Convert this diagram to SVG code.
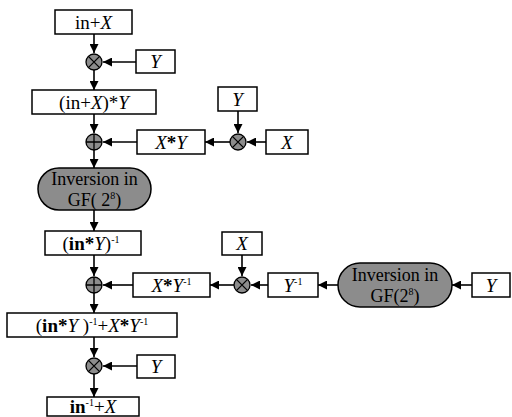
<svg xmlns="http://www.w3.org/2000/svg" width="512" height="417" viewBox="0 0 512 417">
<style>
.box{fill:#fff;stroke:#000;stroke-width:1.5}
.pill{fill:#8c8c8c;stroke:#000;stroke-width:1.5}
.op{fill:#8c8c8c;stroke:#000;stroke-width:1.3}
.opl{stroke:#000;stroke-width:1.3;fill:none}
.t{font-family:"Liberation Serif","Times New Roman",serif;font-size:19px;fill:#000;text-anchor:middle}
.p{font-size:18px}
.i{font-style:italic}
.b{font-weight:bold}
.s{font-size:10px}
.c{stroke:#000;stroke-width:1.6;fill:none;marker-end:url(#ah)}
</style>
<defs>
<marker id="ah" viewBox="0 0 10 10" refX="10" refY="5" markerWidth="9" markerHeight="9" markerUnits="userSpaceOnUse" orient="auto">
<path d="M0,0 L10,5 L0,10 z" fill="#000"/>
</marker>
<g id="mul"><circle class="op" r="8"/><path class="opl" d="M-5.6,-5.6 L5.6,5.6 M-5.6,5.6 L5.6,-5.6"/></g>
<g id="add"><circle class="op" r="8"/><path class="opl" d="M-8,0 L8,0 M0,-8 L0,8"/></g>
</defs>

<g id="connectors">
<path class="c" d="M94,34 L94,53"/>
<path class="c" d="M136,62 L103,62"/>
<path class="c" d="M94,70 L94,90"/>
<path class="c" d="M94,114 L94,133"/>
<path class="c" d="M137,142 L103,142"/>
<path class="c" d="M238,111 L238,133"/>
<path class="c" d="M266,142 L247,142"/>
<path class="c" d="M230,142 L205,142"/>
<path class="c" d="M94,150 L94,168"/>
<path class="c" d="M94,210 L94,231"/>
<path class="c" d="M94,255 L94,276"/>
<path class="c" d="M133,285 L103,285"/>
<path class="c" d="M242,255 L242,276"/>
<path class="c" d="M268,285 L251,285"/>
<path class="c" d="M234,285 L210,285"/>
<path class="c" d="M338,285 L318,285"/>
<path class="c" d="M472,285 L452,285"/>
<path class="c" d="M94,293 L94,313"/>
<path class="c" d="M94,337 L94,357"/>
<path class="c" d="M137,366 L103,366"/>
<path class="c" d="M94,374 L94,397"/>
</g>

<g id="n_inX"><rect class="box" x="55" y="10" width="77" height="24"/><text class="t" x="93.5" y="28.5">in+<tspan class="i">X</tspan></text></g>
<g id="op1"><use href="#mul" x="94" y="62"/></g>
<g id="n_Y1"><rect class="box" x="136" y="50" width="39" height="23"/><text class="t i" x="155.5" y="67.5">Y</text></g>
<g id="n_inXY"><rect class="box" x="32" y="90" width="124" height="24"/><text class="t" x="94" y="108.5">(in+<tspan class="i">X</tspan>)*<tspan class="i">Y</tspan></text></g>
<g id="op2"><use href="#add" x="94" y="142"/></g>
<g id="n_XY"><rect class="box" x="137" y="130" width="68" height="24"/><text class="t" x="171" y="148.5"><tspan class="i">X</tspan><tspan class="b">*</tspan><tspan class="i">Y</tspan></text></g>
<g id="op3"><use href="#mul" x="238" y="142"/></g>
<g id="n_Y2"><rect class="box" x="218" y="87" width="39" height="24"/><text class="t i" x="237.5" y="105.5">Y</text></g>
<g id="n_X1"><rect class="box" x="266" y="130" width="42" height="24"/><text class="t i" x="287" y="148.5">X</text></g>
<g id="n_inv1"><rect class="pill" x="38" y="168" width="113" height="42" rx="21"/><text class="t p" x="94.5" y="185">Inversion in</text><text class="t p" x="94.5" y="206">GF( 2<tspan class="s" dy="-7">8</tspan><tspan dy="7">)</tspan></text></g>
<g id="n_inYinv"><rect class="box" x="45" y="231" width="96" height="24"/><text class="t" x="91" y="249.5">(<tspan class="b">in*</tspan><tspan class="i">Y</tspan>)<tspan class="s" dy="-7">-1</tspan></text></g>
<g id="op4"><use href="#add" x="94" y="285"/></g>
<g id="n_XYinv"><rect class="box" x="133" y="273" width="77" height="24"/><text class="t" x="171.5" y="291.5"><tspan class="i">X</tspan><tspan class="b">*</tspan><tspan class="i">Y</tspan><tspan class="s" dy="-7">-1</tspan></text></g>
<g id="op5"><use href="#mul" x="242" y="285"/></g>
<g id="n_X2"><rect class="box" x="222" y="232" width="40" height="23"/><text class="t i" x="242" y="249.5">X</text></g>
<g id="n_Yinv"><rect class="box" x="268" y="273" width="50" height="24"/><text class="t" x="293" y="291.5"><tspan class="i">Y</tspan><tspan class="s" dy="-7">-1</tspan></text></g>
<g id="n_inv2"><rect class="pill" x="338" y="263" width="114" height="44" rx="22"/><text class="t p" x="395" y="281">Inversion in</text><text class="t p" x="395" y="302">GF(2<tspan class="s" dy="-7">8</tspan><tspan dy="7">)</tspan></text></g>
<g id="n_Y3"><rect class="box" x="472" y="273" width="38" height="24"/><text class="t i" x="491" y="291.5">Y</text></g>
<g id="n_sum"><rect class="box" x="7" y="313" width="170" height="24"/><text class="t" x="92" y="331.5">(<tspan class="b">in*</tspan><tspan class="i">Y</tspan> )<tspan class="s" dy="-7">-1</tspan><tspan dy="7">+</tspan><tspan class="i">X</tspan><tspan class="b">*</tspan><tspan class="i">Y</tspan><tspan class="s" dy="-7">-1</tspan></text></g>
<g id="op6"><use href="#mul" x="94" y="366"/></g>
<g id="n_Y4"><rect class="box" x="137" y="355" width="38" height="23"/><text class="t i" x="156" y="372.5">Y</text></g>
<g id="n_out"><rect class="box" x="47" y="397" width="92" height="19"/><text class="t" x="93" y="413"><tspan class="b">in</tspan><tspan class="s" dy="-7">-1</tspan><tspan dy="7">+</tspan><tspan class="i">X</tspan></text></g>
</svg>
